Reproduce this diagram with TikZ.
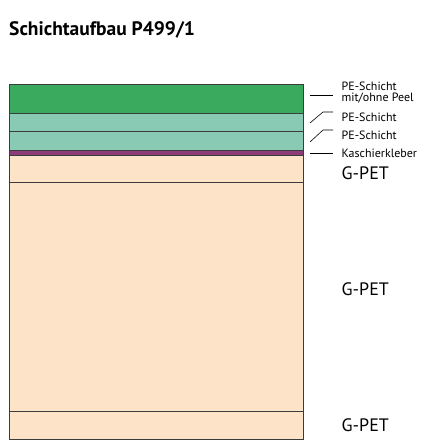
\documentclass[tikz,border=0pt]{standalone}
\usepackage{fontspec}
\setmainfont{PT Sans}
\usetikzlibrary{calc}
\definecolor{peelgreen}{HTML}{3AAA5E}
\definecolor{pegreen}{HTML}{88CAB4}
\definecolor{kaschier}{HTML}{8E3B79}
\definecolor{gpet}{HTML}{FDE3C7}
\definecolor{rand}{HTML}{3C3C3C}
\tikzset{
	layer/.style={draw=rand, line width=0.8pt},
	lbl/.style={anchor=west, inner sep=0pt, font=\fontsize{12}{11}\selectfont, align=left},
	big/.style={anchor=west, inner sep=0pt, font=\fontsize{18}{18}\selectfont},
	lead/.style={line width=0.6pt, color=black}
}
\begin{document}
\begin{tikzpicture}[x=1pt, y=-1pt]
			%%%%% START %%%%%
			\useasboundingbox (0, 0) rectangle (426, 447);
			
			\node[anchor=west, inner sep=0pt, font=\fontsize{19.5}{19.5}\selectfont\bfseries] (title) at (9, 30) {Schichtaufbau P499/1};
			
			% Schichten
			\draw[layer, fill=peelgreen] (9.5, 84.5) rectangle (303, 113);
			\draw[layer, fill=pegreen] (9.5, 113) rectangle (303, 131);
			\draw[layer, fill=pegreen] (9.5, 131) rectangle (303, 150);
			\draw[layer, fill=kaschier] (9.5, 150) rectangle (303, 155);
			\draw[layer, fill=gpet] (9.5, 155) rectangle (303, 182.5);
			\draw[layer, fill=gpet] (9.5, 182.5) rectangle (303, 411);
			\draw[layer, fill=gpet] (9.5, 411) rectangle (303, 439);
			
			% Beschriftung
			\node[lbl] (peel) at (341.5, 93) {PE-Schicht\\mit/ohne Peel};
			\node[lbl] (pe1) at (341.5, 117) {PE-Schicht};
			\node[lbl] (pe2) at (341.5, 135) {PE-Schicht};
			\node[lbl] (kasch) at (341.5, 153) {Kaschierkleber};
			\node[big] (gpet1) at (341.5, 173) {G-PET};
			\node[big] (gpet2) at (341.5, 289) {G-PET};
			\node[big] (gpet3) at (341.5, 425) {G-PET};
			
			\coordinate (c1) at (310, 95);
			\coordinate (c2) at (310, 123);
			\coordinate (c3) at (310, 142);
			\coordinate (c4) at (310, 153);
			
			\draw[lead] (c1) -- ++(23, 0);
			\draw[lead] (c2) -- ++(13, -11) -- ++(10, 0);
			\draw[lead] (c3) -- ++(13, -12) -- ++(10, 0);
			\draw[lead] (c4) -- ++(23, 0);
			%%%%% END %%%%%
		\end{tikzpicture}
\end{document}
